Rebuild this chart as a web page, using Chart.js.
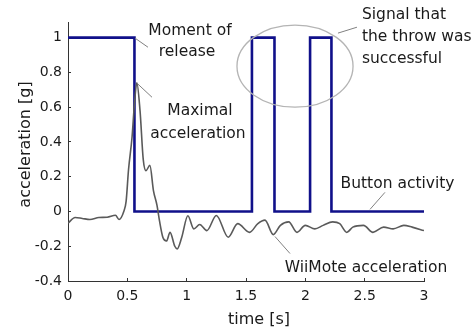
<!DOCTYPE html>
<html>
<head>
<meta charset="utf-8">
<script src="https://cdn.jsdelivr.net/npm/chart.js@4"></script>
<style>
  body { margin: 0; background: #fff; }
  canvas { display: block; }
</style>
</head>
<body>
<canvas id="chart" width="474" height="328"></canvas>
<script>
// button state changes (time in s, level)
const buttonTimes = [0, 0.56, 1.55, 1.74, 2.04, 2.22, 3];
const buttonLevels = [1, 0, 1, 0, 1, 0, 0];

// WiiMote acceleration
const accTimes = [0, 0.06, 0.12, 0.185, 0.26, 0.33, 0.40, 0.43, 0.47, 0.49, 0.51, 0.54, 0.56, 0.58,
  0.607, 0.634, 0.657, 0.69, 0.72, 0.75, 0.77, 0.80, 0.83, 0.86, 0.90, 0.92, 0.958, 1.01, 1.06,
  1.11, 1.17, 1.25, 1.35, 1.43, 1.53, 1.60, 1.66, 1.73, 1.79, 1.86, 1.93, 2.0, 2.08, 2.15, 2.23,
  2.29, 2.35, 2.40, 2.49, 2.57, 2.66, 2.74, 2.83, 2.90, 3.0];
const accValues = [-0.067, -0.035, -0.04, -0.046, -0.035, -0.033, -0.022, -0.046, 0.0, 0.06, 0.24, 0.43, 0.62, 0.74,
  0.58, 0.30, 0.235, 0.265, 0.12, 0.035, -0.05, -0.15, -0.17, -0.12, -0.20, -0.215, -0.15, -0.025, -0.10,
  -0.075, -0.11, -0.023, -0.148, -0.07, -0.12, -0.07, -0.05, -0.133, -0.08, -0.06, -0.12, -0.08, -0.10, -0.08, -0.06,
  -0.07, -0.12, -0.09, -0.08, -0.12, -0.09, -0.10, -0.08, -0.09, -0.11];

const xTicks = [0, 0.5, 1, 1.5, 2, 2.5, 3];
const yTicks = [-0.4, -0.2, 0, 0.2, 0.4, 0.6, 0.8, 1];

const FONT = "'DejaVu Sans', sans-serif";

// annotation texts and leader lines, placed in data units
const notes = [
  { text: 'Moment of', t: 1.028, v: 1.037 },
  { text: 'release', t: 1.003, v: 0.916 },
  { text: 'Maximal', t: 1.112, v: 0.576 },
  { text: 'acceleration', t: 1.095, v: 0.444 },
  { text: 'Signal that', t: 2.477, v: 1.13, left: true },
  { text: 'the throw was', t: 2.477, v: 1.003, left: true },
  { text: 'successful', t: 2.477, v: 0.876, left: true },
  { text: 'Button activity', t: 2.777, v: 0.161 },
  { text: 'WiiMote acceleration', t: 2.511, v: -0.323 }
];
const leaders = [
  [0.565, 0.997, 0.674, 0.945],
  [0.581, 0.738, 0.708, 0.657],
  [2.275, 1.026, 2.435, 1.06],
  [2.545, 0.012, 2.671, 0.11],
  [1.744, -0.144, 1.871, -0.242]
];

const annotate = {
  id: 'annotate',
  afterDraw(chart) {
    const ctx = chart.ctx;
    const x = chart.scales.x, y = chart.scales.y;
    const area = chart.chartArea;
    ctx.save();

    // ellipse around the success signal
    const cx = x.getPixelForValue(1.913), cy = y.getPixelForValue(0.836);
    const rx = x.getPixelForValue(1.913 + 0.489) - cx;
    const ry = y.getPixelForValue(0.836) - y.getPixelForValue(0.836 + 0.236);
    ctx.strokeStyle = '#b4b4b4';
    ctx.lineWidth = 1.3;
    ctx.beginPath();
    ctx.ellipse(cx, cy, rx, ry, 0, 0, Math.PI * 2);
    ctx.stroke();

    // leader lines
    ctx.strokeStyle = '#808080';
    ctx.lineWidth = 1;
    leaders.forEach(l => {
      ctx.beginPath();
      ctx.moveTo(x.getPixelForValue(l[0]), y.getPixelForValue(l[1]));
      ctx.lineTo(x.getPixelForValue(l[2]), y.getPixelForValue(l[3]));
      ctx.stroke();
    });

    // texts
    ctx.fillStyle = '#1a1a1a';
    ctx.font = '15.5px ' + FONT;
    ctx.textBaseline = 'middle';
    notes.forEach(n => {
      ctx.textAlign = n.left ? 'left' : 'center';
      ctx.fillText(n.text, x.getPixelForValue(n.t), y.getPixelForValue(n.v));
    });

    // axis titles
    ctx.font = '16px ' + FONT;
    ctx.textAlign = 'center';
    ctx.fillText('time [s]', 259, 320);
    ctx.translate(area.left - 42, (area.top + area.bottom) / 2 - 7);
    ctx.rotate(-Math.PI / 2);
    ctx.fillText('acceleration [g]', 0, 0);
    ctx.restore();
  }
};

new Chart(document.getElementById('chart'), {
  type: 'line',
  data: {
    datasets: [
      {
        label: 'WiiMote acceleration',
        data: accTimes.map((t, i) => ({ x: t, y: accValues[i] })),
        borderColor: '#5a5a5a',
        borderWidth: 1.6,
        pointRadius: 0,
        tension: 0.35,
        cubicInterpolationMode: 'monotone'
      },
      {
        label: 'Button activity',
        data: buttonTimes.map((t, i) => ({ x: t, y: buttonLevels[i] })),
        borderColor: '#10108a',
        borderWidth: 2.6,
        pointRadius: 0,
        stepped: 'before'
      }
    ]
  },
  options: {
    responsive: false,
    animation: false,
    layout: { padding: { left: 0, top: 22, right: 50, bottom: 0 } },
    plugins: { legend: { display: false }, tooltip: { enabled: false } },
    scales: {
      x: {
        type: 'linear',
        min: 0,
        max: 3,
        afterBuildTicks: s => { s.ticks = xTicks.map(v => ({ value: v })); },
        afterFit: s => { s.height = 47; },
        grid: { drawOnChartArea: false, tickLength: -3, color: '#333' },
        border: { color: '#333', width: 1 },
        ticks: { color: '#1a1a1a', font: { family: FONT, size: 14 }, padding: 10, maxRotation: 0,
          callback: v => String(v) }
      },
      y: {
        type: 'linear',
        min: -0.4,
        max: 1.09,
        afterBuildTicks: s => { s.ticks = yTicks.map(v => ({ value: v })); },
        afterFit: s => { s.width = 68; },
        grid: { drawOnChartArea: false, tickLength: -3, color: '#333' },
        border: { color: '#333', width: 1 },
        ticks: { color: '#1a1a1a', font: { family: FONT, size: 14 }, padding: 9,
          callback: v => String(v) }
      }
    }
  },
  plugins: [annotate]
});
</script>
</body>
</html>
